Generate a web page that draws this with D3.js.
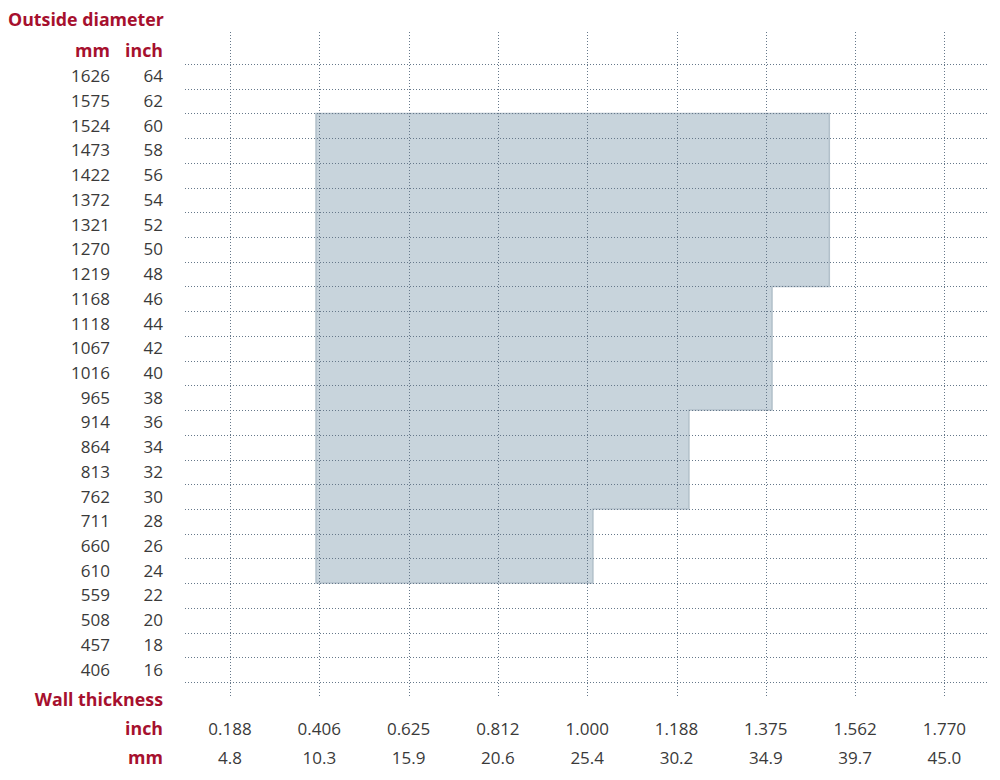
<!DOCTYPE html>
<html>
<head>
<meta charset="utf-8">
<script src="https://cdn.jsdelivr.net/npm/d3@7"></script>
<style>
  body { margin:0; background:#fff; }
  text { font-family:"Open Sans", sans-serif; }
</style>
</head>
<body>
<div id="chart"></div>
<script>
// outside diameter rows, top to bottom
var odInch = [64,62,60,58,56,54,52,50,48,46,44,42,40,38,36,34,32,30,28,26,24,22,20,18,16]
var odMm   = [1626,1575,1524,1473,1422,1372,1321,1270,1219,1168,1118,1067,1016,965,914,864,813,762,711,660,610,559,508,457,406]

// wall thickness ticks
var wtInch = ["0.188","0.406","0.625","0.812","1.000","1.188","1.375","1.562","1.770"]
var wtMm   = ["4.8","10.3","15.9","20.6","25.4","30.2","34.9","39.7","45.0"]

// feasible range: OD band (inch) -> max wall (inch), min wall common
var minWall = 0.398
var odFrom  = [48, 38, 30, 24]
var odTo    = [60, 46, 36, 28]
var maxWall = [1.508, 1.388, 1.214, 1.012]

var W = 1000, H = 780
var red = "#a6102e", ink = "#3a3a3a", grid = "#66788a"
var fsNum = 17, fsHead = 17.8

var svg = d3.select("#chart").append("svg")
    .attr("width", W).attr("height", H)

// piecewise scale: ticks are evenly spaced
var xPos = d3.range(wtInch.length).map(i => 230 + i * 89.3)
var x = d3.scaleLinear().domain(wtInch.map(Number)).range(xPos)

var y = d3.scaleBand().domain(odInch).range([64, 682])

// shaded region as a step polygon
var pts = [[x(minWall), y(odTo[0])]]
odFrom.forEach((f, i) => {
  pts.push([x(maxWall[i]), y(odTo[i])])
  pts.push([x(maxWall[i]), y(f) + y.bandwidth()])
})
pts.push([x(minWall), y(odFrom[odFrom.length - 1]) + y.bandwidth()])

svg.append("path")
    .attr("d", d3.line()(pts) + "Z")
    .attr("fill", "#c8d4dc")
    .attr("stroke", "#b2c0ca")
    .attr("stroke-width", 1.5)

// horizontal grid at row boundaries
var hLines = odInch.map(d => y(d)).concat([y(odInch[odInch.length - 1]) + y.bandwidth()])
svg.append("g").selectAll("line").data(hLines).join("line")
    .attr("x1", 185).attr("x2", 989)
    .attr("y1", d => Math.round(d) + 0.5).attr("y2", d => Math.round(d) + 0.5)
    .attr("stroke", grid).attr("stroke-dasharray", "1,2")

// vertical grid at ticks
svg.append("g").selectAll("line").data(wtInch).join("line")
    .attr("x1", d => Math.round(x(+d)) + 0.5).attr("x2", d => Math.round(x(+d)) + 0.5)
    .attr("y1", 32).attr("y2", 698)
    .attr("stroke", grid).attr("stroke-dasharray", "1,2")

// titles
svg.append("text").attr("x", 8).attr("y", 26)
    .attr("fill", red).attr("font-weight", "bold").attr("font-size", fsHead)
    .text("Outside diameter")
svg.append("text").attr("x", 110).attr("y", 57).attr("text-anchor", "end")
    .attr("fill", red).attr("font-weight", "bold").attr("font-size", fsHead).text("mm")
svg.append("text").attr("x", 163).attr("y", 57).attr("text-anchor", "end")
    .attr("fill", red).attr("font-weight", "bold").attr("font-size", fsHead).text("inch")

// y labels
var rows = svg.append("g").attr("font-size", fsNum).attr("fill", ink)
rows.selectAll("text.mm").data(odMm).join("text").attr("class", "mm")
    .attr("x", 110).attr("y", (d, i) => y(odInch[i]) + y.bandwidth() / 2)
    .attr("dy", "0.35em").attr("text-anchor", "end").text(d => d)
rows.selectAll("text.in").data(odInch).join("text").attr("class", "in")
    .attr("x", 163).attr("y", d => y(d) + y.bandwidth() / 2)
    .attr("dy", "0.35em").attr("text-anchor", "end").text(d => d)

// x labels
svg.append("text").attr("x", 163).attr("y", 706).attr("text-anchor", "end")
    .attr("fill", red).attr("font-weight", "bold").attr("font-size", fsHead).text("Wall thickness")
svg.append("text").attr("x", 163).attr("y", 735).attr("text-anchor", "end")
    .attr("fill", red).attr("font-weight", "bold").attr("font-size", fsHead).text("inch")
svg.append("text").attr("x", 163).attr("y", 764).attr("text-anchor", "end")
    .attr("fill", red).attr("font-weight", "bold").attr("font-size", fsHead).text("mm")

var cols = svg.append("g").attr("font-size", fsNum).attr("fill", ink).attr("text-anchor", "middle")
cols.selectAll("text.in").data(wtInch).join("text").attr("class", "in")
    .attr("x", d => x(+d)).attr("y", 735).text(d => d)
cols.selectAll("text.mm").data(wtMm).join("text").attr("class", "mm")
    .attr("x", (d, i) => x(+wtInch[i])).attr("y", 764).text(d => d)
</script>
</body>
</html>
